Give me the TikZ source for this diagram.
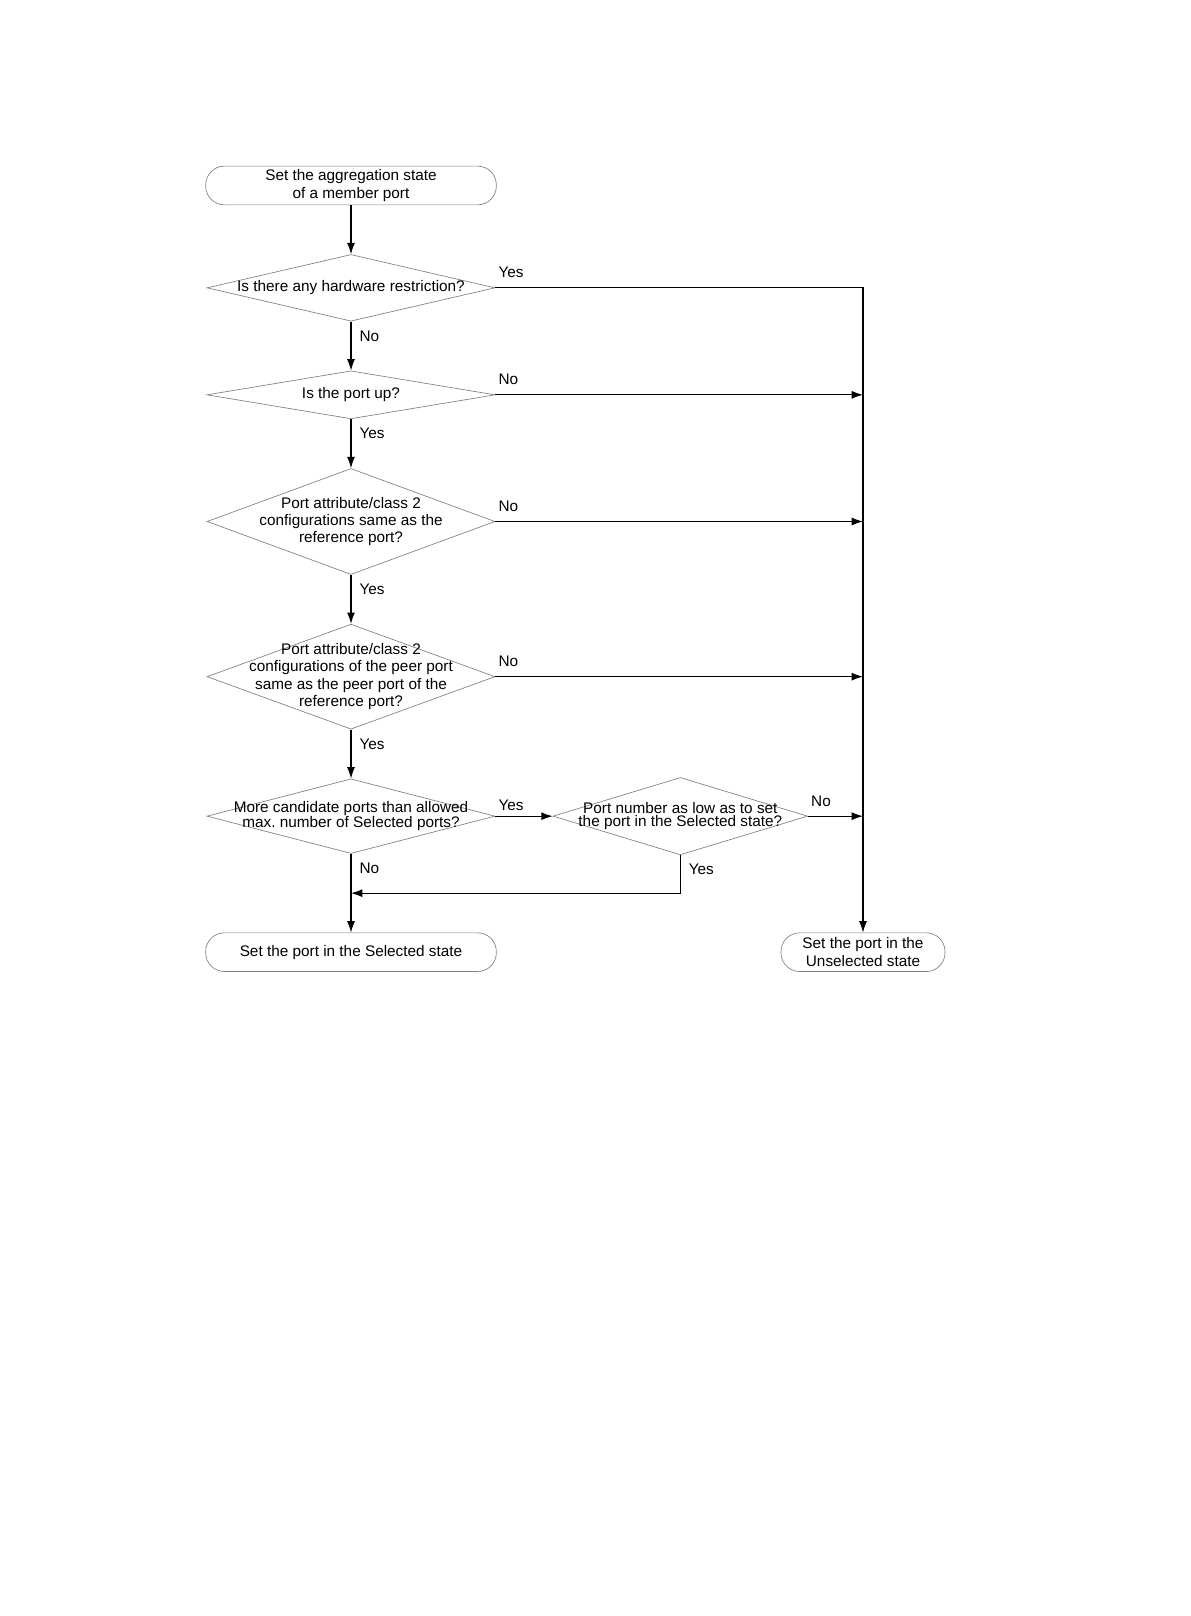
\documentclass[tikz,border=0pt]{standalone}
\usepackage{fontspec}
\setmainfont{Liberation Sans}
\usetikzlibrary{
arrows.meta,
calc,
positioning,
shapes.geometric
}
\tikzset{>={Latex[length=8.5pt,width=6pt]}}
\tikzset{
	terminal/.style={draw=gray, line width=0.5pt, rectangle, rounded corners=14pt, inner sep=0pt, minimum height=29pt, align=center},
	decision/.style={draw=gray, line width=0.5pt, diamond, inner sep=0pt},
	qtext/.style={align=center, inner sep=0pt},
	tight/.style={font=\fontsize{11.5}{10}\selectfont},
	flow/.style={->, line width=0.8pt},
	hlab/.style={anchor=south west, inner sep=0pt, xshift=2pt, yshift=7pt},
	vlab/.style={anchor=north west, inner sep=0pt, xshift=6pt, yshift=-6.5pt}
}

\begin{document}
\begin{tikzpicture}[x=0.75pt, y=-0.75pt, node distance=36.75pt, font=\fontsize{11.5}{13}\selectfont]
		\useasboundingbox (0,0) rectangle (1190,1616);
		
		\node[terminal, minimum width=218pt] (start) at (351,185.5) {Set the aggregation state\\of a member port};
		\node[decision, minimum width=216pt, minimum height=50pt, below=of start,
			label={[qtext]center:Is there any hardware restriction?}] (hw) {};
		\node[decision, minimum width=216pt, minimum height=36pt, below=of hw,
			label={[qtext]center:Is the port up?}] (up) {};
		\node[decision, minimum width=216pt, minimum height=79.5pt, below=of up,
			label={[qtext]center:Port attribute/class 2\\configurations same as the\\reference port?}] (attr) {};
		\node[decision, minimum width=216pt, minimum height=78.75pt, below=of attr,
			label={[qtext]center:Port attribute/class 2\\configurations of the peer port\\same as the peer port of the\\reference port?}] (peer) {};
		\node[decision, minimum width=216pt, minimum height=56pt, below=of peer,
			label={[qtext, tight]center:More candidate ports than allowed\\max.\ number of Selected ports?}] (count) {};
		\node[decision, minimum width=191pt, minimum height=58pt, right=43pt of count,
			label={[qtext, tight]center:Port number as low as to set\\the port in the Selected state?}] (low) {};
		\node[terminal, minimum width=218pt, below=59pt of count] (sel) {Set the port in the Selected state};
		\node[terminal, minimum width=123pt, right=213pt of sel] (unsel) {Set the port in the\\Unselected state};
		
		\draw[flow] (start) -- (hw);
		\draw[flow] (hw.south) -- node[vlab, pos=0] {No} (up.north);
		\draw[flow] (up.south) -- node[vlab, pos=0] {Yes} (attr.north);
		\draw[flow] (attr.south) -- node[vlab, pos=0] {Yes} (peer.north);
		\draw[flow] (peer.south) -- node[vlab, pos=0] {Yes} (count.north);
		\draw[flow] (count.south) -- node[vlab, pos=0] {No} (sel.north);
		\draw[flow] (count.east) -- node[hlab, pos=0, yshift=-3pt] {Yes} (low.west);
		
		\draw[flow] (hw.east) -| node[hlab, pos=0] {Yes} (unsel.north);
		\draw[flow] (up.east) -- node[hlab, pos=0] {No} (up.east -| unsel.north);
		\draw[flow] (attr.east) -- node[hlab, pos=0] {No} (attr.east -| unsel.north);
		\draw[flow] (peer.east) -- node[hlab, pos=0] {No} (peer.east -| unsel.north);
		\draw[flow] (low.east) -- node[hlab, pos=0] {No} (low.east -| unsel.north);
		
		\coordinate (merge) at ($(low.south)+(0,38)$);
		\draw[flow] (low.south) -- node[vlab, pos=0] {Yes} (merge) -- (merge -| count.south);
	\end{tikzpicture}
\end{document}
